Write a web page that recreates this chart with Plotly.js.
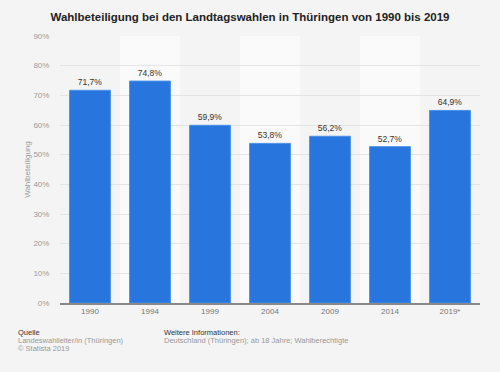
<!DOCTYPE html>
<html>
<head>
<meta charset="utf-8">
<script src="https://cdn.plot.ly/plotly-3.0.1.min.js"></script>
<style>html,body{margin:0;padding:0;background:#f4f4f4;}#chart{width:500px;height:372px;}</style>
</head>
<body>
<div id="chart"></div>
<script>
const categories = ["1990", "1994", "1999", "2004", "2009", "2014", "2019*"];
const turnout = [71.7, 74.8, 59.9, 53.8, 56.2, 52.7, 64.9];
const labels = ["71,7%", "74,8%", "59,9%", "53,8%", "56,2%", "52,7%", "64,9%"];
const yTicks = [0, 10, 20, 30, 40, 50, 60, 70, 80, 90];
const yTickText = ["0%", "10%", "20%", "30%", "40%", "50%", "60%", "70%", "80%", "90%"];

const shapes = [];
categories.forEach((c, i) => {
  if (i % 2 === 1) {
    shapes.push({type: "rect", xref: "x", yref: "paper", x0: i - 0.5, x1: i + 0.5, y0: 0, y1: 1,
      fillcolor: "#fafafa", line: {width: 0}, layer: "below"});
  }
});

const trace = {
  type: "bar",
  x: categories.map((c, i) => i),
  y: turnout,
  text: labels,
  textposition: "outside",
  cliponaxis: false,
  textfont: {family: "Liberation Sans, Arial, sans-serif", size: 8.5, color: "#333"},
  marker: {color: "#2876dd", line: {color: "#4a8fe8", width: 1}},
  width: 0.68,
  hoverinfo: "none"
};

const f = "Liberation Sans, Arial, sans-serif";
const layout = {
  width: 500, height: 372,
  paper_bgcolor: "#f4f4f4",
  plot_bgcolor: "#f4f4f4",
  margin: {l: 60, r: 20, t: 36, b: 69},
  showlegend: false,
  title: {text: "<b>Wahlbeteiligung bei den Landtagswahlen in Thüringen von 1990 bis 2019</b>",
    font: {family: f, size: 11.5, color: "#222"},
    x: 0.5, xanchor: "center", y: 0.955, yanchor: "middle"},
  xaxis: {
    tickmode: "array", tickvals: categories.map((c, i) => i), ticktext: categories,
    range: [-0.5, categories.length - 0.5],
    showgrid: false, zeroline: false,
    showline: true, linecolor: "#888", linewidth: 1.5,
    ticks: "", ticklen: 0,
    tickfont: {family: f, size: 8, color: "#777"}
  },
  yaxis: {
    range: [0, 90],
    tickmode: "array", tickvals: yTicks, ticktext: yTickText,
    showgrid: true, gridcolor: "#e4e4e4", gridwidth: 1,
    zeroline: false, showline: false,
    ticks: "outside", ticklen: 8, tickcolor: "rgba(0,0,0,0)",
    tickfont: {family: f, size: 8, color: "#999"},
    title: {text: "Wahlbeteiligung", standoff: 1,
      font: {family: f, size: 8, color: "#999"}}
  },
  shapes: shapes,
  annotations: [
    {xref: "paper", yref: "paper", x: -0.105, y: -0.112, xanchor: "left", yanchor: "middle",
      text: "Quelle", showarrow: false, font: {family: f, size: 7.5, color: "#333"}},
    {xref: "paper", yref: "paper", x: -0.105, y: -0.142, xanchor: "left", yanchor: "middle",
      text: "Landeswahlleiter/in (Thüringen)", showarrow: false, font: {family: f, size: 7.5, color: "#999"}},
    {xref: "paper", yref: "paper", x: -0.105, y: -0.172, xanchor: "left", yanchor: "middle",
      text: "© Statista 2019", showarrow: false, font: {family: f, size: 7.5, color: "#999"}},
    {xref: "paper", yref: "paper", x: 0.243, y: -0.112, xanchor: "left", yanchor: "middle",
      text: "Weitere Informationen:", showarrow: false, font: {family: f, size: 7.5, color: "#333"}},
    {xref: "paper", yref: "paper", x: 0.243, y: -0.142, xanchor: "left", yanchor: "middle",
      text: "Deutschland (Thüringen); ab 18 Jahre; Wahlberechtigte", showarrow: false, font: {family: f, size: 7.5, color: "#999"}}
  ]
};

Plotly.newPlot("chart", [trace], layout, {displayModeBar: false, staticPlot: true});
</script>
</body>
</html>
